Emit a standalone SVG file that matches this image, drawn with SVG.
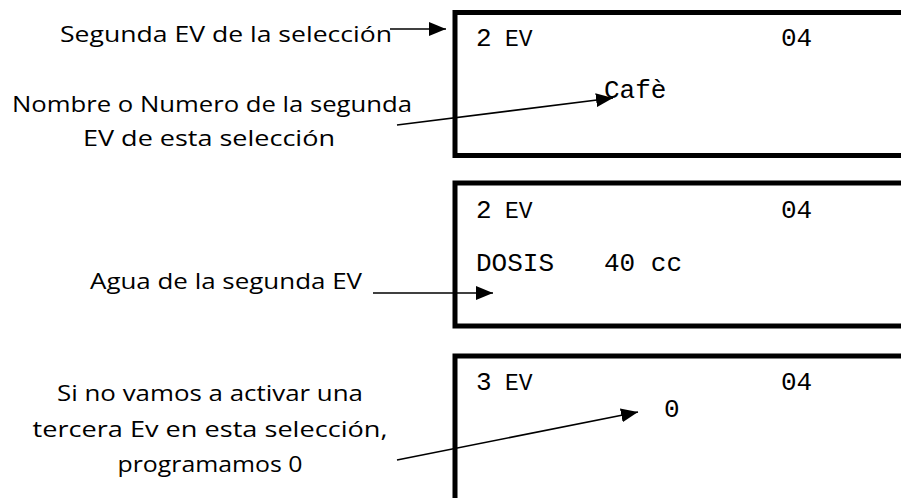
<svg xmlns="http://www.w3.org/2000/svg" width="901" height="498" viewBox="0 0 901 498">
<style>
.lbl{font-family:"Open Sans","DejaVu Sans",sans-serif;font-size:21px;fill:#000;text-anchor:middle}
.lcd{font-family:"Liberation Mono","DejaVu Sans Mono",monospace;font-size:26px;fill:#000}
.ev{font-family:"Liberation Mono","DejaVu Sans Mono",monospace;font-size:23px;fill:#000}
.box{fill:#fff;stroke:#000;stroke-width:5}
.conn{stroke:#000;stroke-width:1.6;fill:none;marker-end:url(#ah)}
</style>
<defs>
<marker id="ah" viewBox="0 0 10 10" refX="10" refY="5" markerWidth="17" markerHeight="14" markerUnits="userSpaceOnUse" orient="auto" preserveAspectRatio="none">
<path d="M0,0 L10,5 L0,10 z" fill="#000"/>
</marker>
</defs>
<rect width="901" height="498" fill="#fff"/>
<g id="box1">
<rect class="box" x="455" y="12.5" width="460" height="143"/>
<text class="lcd" x="476" y="46">2</text><text class="ev" x="505" y="46">EV</text>
<text class="lcd" x="781" y="46">04</text>
<text class="lcd" x="604" y="98">Cafè</text>
</g>
<g id="box2">
<rect class="box" x="455" y="183" width="460" height="143"/>
<text class="lcd" x="476" y="218">2</text><text class="ev" x="505" y="218">EV</text>
<text class="lcd" x="781" y="218">04</text>
<text class="lcd" x="476" y="271">DOSIS</text>
<text class="lcd" x="604" y="271">40 cc</text>
</g>
<g id="box3">
<rect class="box" x="455" y="356" width="460" height="160"/>
<text class="lcd" x="476" y="390">3</text><text class="ev" x="505" y="390">EV</text>
<text class="lcd" x="781" y="390">04</text>
<text class="lcd" x="664" y="417">0</text>
</g>
<g id="label1">
<text class="lbl" x="226" y="42" textLength="332" lengthAdjust="spacingAndGlyphs">Segunda EV de la selección</text>
</g>
<g id="label2">
<text class="lbl" x="212" y="112" textLength="400" lengthAdjust="spacingAndGlyphs">Nombre o Numero de la segunda</text>
<text class="lbl" x="209" y="146" textLength="252" lengthAdjust="spacingAndGlyphs">EV de esta selección</text>
</g>
<g id="label3">
<text class="lbl" x="226" y="289" textLength="272" lengthAdjust="spacingAndGlyphs">Agua de la segunda EV</text>
</g>
<g id="label4">
<text class="lbl" x="210" y="401" textLength="306" lengthAdjust="spacingAndGlyphs">Si no vamos a activar una</text>
<text class="lbl" x="210" y="437" textLength="355" lengthAdjust="spacingAndGlyphs">tercera Ev en esta selección,</text>
<text class="lbl" x="210" y="472" textLength="185" lengthAdjust="spacingAndGlyphs">programamos 0</text>
</g>
<g id="connectors">
<line class="conn" x1="390" y1="29" x2="446" y2="29"/>
<line class="conn" x1="397" y1="125" x2="613" y2="98"/>
<line class="conn" x1="373" y1="293" x2="493" y2="293"/>
<line class="conn" x1="397" y1="460" x2="638" y2="412"/>
</g>
</svg>
